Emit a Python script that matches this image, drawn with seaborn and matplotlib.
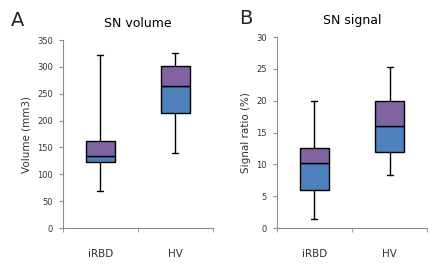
import numpy as np
import pandas as pd
import matplotlib
matplotlib.use("Agg")
import matplotlib.pyplot as plt
import seaborn as sns

# Box statistics
groups = ["iRBD", "HV"]

vol_low = [68, 140]
vol_q1 = [123, 215]
vol_med = [135, 265]
vol_q3 = [162, 302]
vol_high = [322, 326]

sig_low = [1.4, 8.4]
sig_q1 = [6.0, 12.0]
sig_med = [10.2, 16.1]
sig_q3 = [12.5, 20.0]
sig_high = [20.0, 25.3]

sns.set_style("white")
plt.rcParams["font.family"] = ["DejaVu Sans"]

blue = "#4F81BD"
purple = "#8064A2"
spine_col = "#8c8c8c"
text_col = "#333333"


def box_panel(ax, low, q1, med, q3, high, ymax, ystep, ylabel, title):
    df = pd.DataFrame({
        "group": groups,
        "lower": np.array(med) - np.array(q1),
        "upper": np.array(q3) - np.array(med),
    })
    # whiskers behind the boxes
    for i in range(len(groups)):
        ax.plot([i, i], [low[i], q1[i]], color="black", lw=1, zorder=1)
        ax.plot([i, i], [q3[i], high[i]], color="black", lw=1, zorder=1)
        ax.plot([i - 0.04, i + 0.04], [low[i], low[i]], color="black", lw=1, zorder=1)
        ax.plot([i - 0.04, i + 0.04], [high[i], high[i]], color="black", lw=1, zorder=1)

    sns.barplot(data=df, x="group", y="lower", bottom=q1, color=blue,
                width=0.39, edgecolor="black", linewidth=1, saturation=1,
                ax=ax, zorder=2)
    sns.barplot(data=df, x="group", y="upper", bottom=med, color=purple,
                width=0.39, edgecolor="black", linewidth=1, saturation=1,
                ax=ax, zorder=2)

    ax.set_xlim(-0.5, 1.5)
    ax.set_ylim(0, ymax)
    ax.set_yticks(np.arange(0, ymax + 0.1, ystep))
    ax.set_xticks([-0.5, 0.5, 1.5], minor=True)
    ax.tick_params(axis="x", which="major", length=0, pad=15,
                   labelsize=7.5, labelcolor=text_col)
    ax.tick_params(axis="x", which="minor", length=3, color=spine_col,
                   direction="out", bottom=True)
    ax.tick_params(axis="y", length=3, color=spine_col, direction="out",
                   left=True, labelsize=6, labelcolor=text_col, pad=4)
    ax.set_xlabel("")
    ax.set_ylabel(ylabel, fontsize=7.5, color=text_col, labelpad=4)
    ax.set_title(title, fontsize=9, color="black", pad=9.5)
    for side in ["top", "right"]:
        ax.spines[side].set_visible(False)
    for side in ["left", "bottom"]:
        ax.spines[side].set_color(spine_col)
        ax.spines[side].set_linewidth(0.8)
    return ax


fig = plt.figure(figsize=(4.37, 2.67), dpi=100)
ax1 = fig.add_axes([0.1435, 0.146, 0.343, 0.704])
ax2 = fig.add_axes([0.633, 0.146, 0.345, 0.715])

box_panel(ax1, vol_low, vol_q1, vol_med, vol_q3, vol_high,
          350, 50, "Volume (mm3)", "SN volume")
box_panel(ax2, sig_low, sig_q1, sig_med, sig_q3, sig_high,
          30, 5, "Signal ratio (%)", "SN signal")

fig.text(11 / 437, 1 - 20 / 267, "A", fontsize=14, va="center", ha="left")
fig.text(239 / 437, 1 - 19 / 267, "B", fontsize=14, va="center", ha="left")

fig.savefig("out.png", dpi=100)
